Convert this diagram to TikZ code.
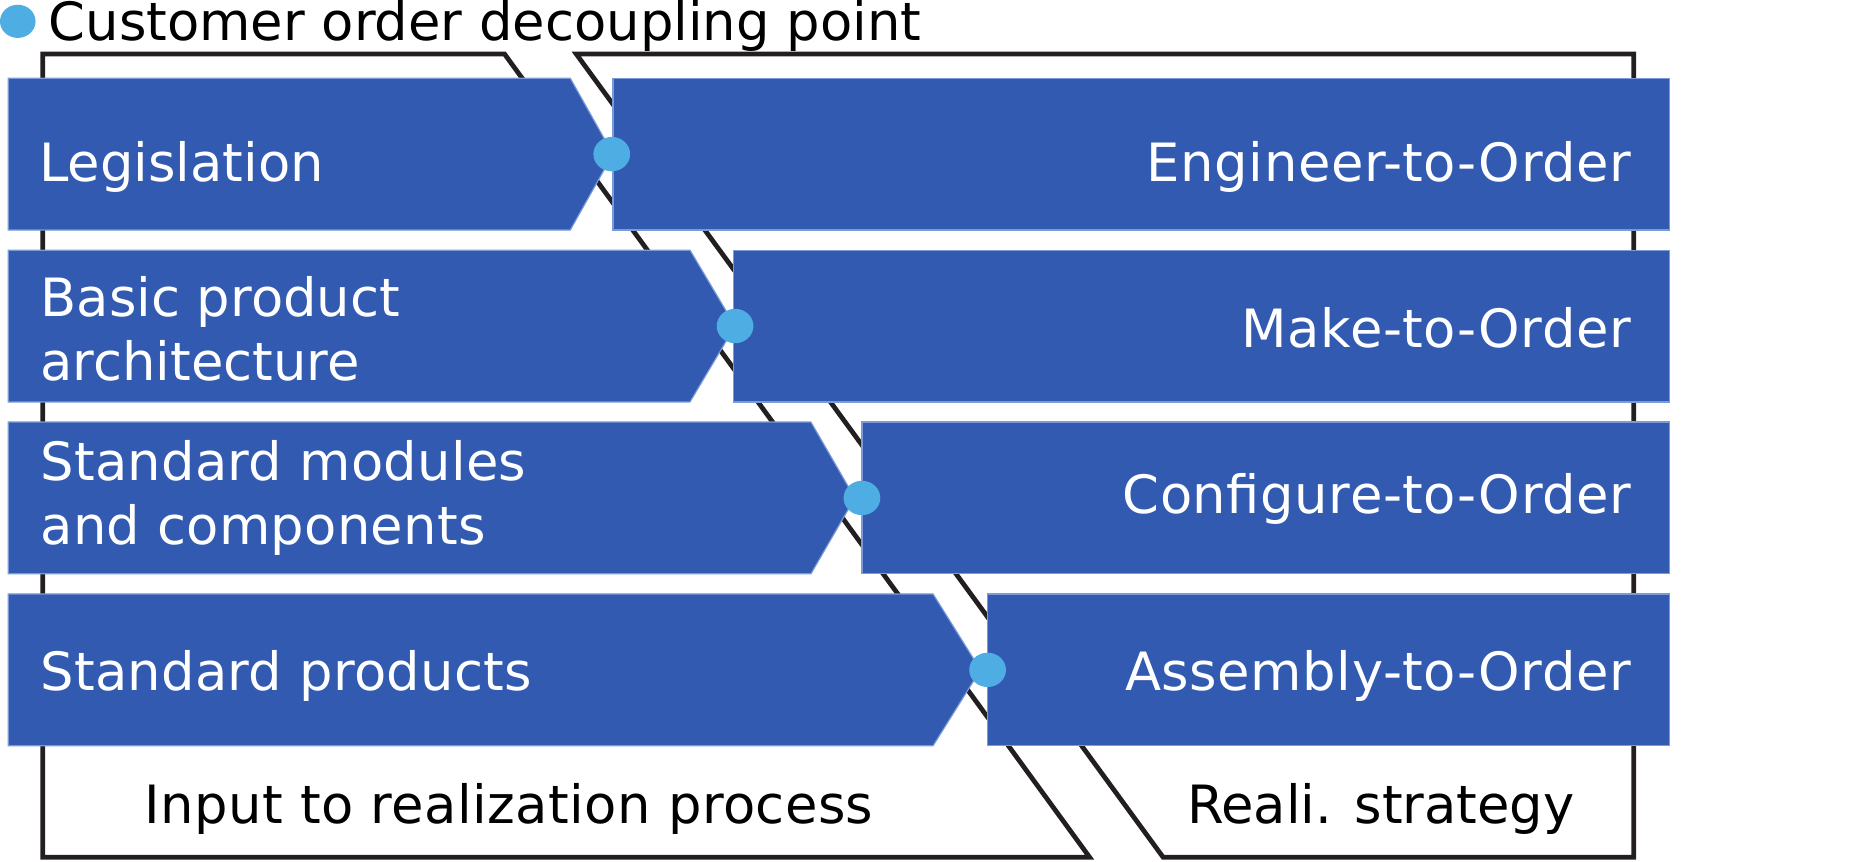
\documentclass[tikz,border=0pt]{standalone}
\usepackage{fontspec}
\setmainfont{DejaVu Sans}
\definecolor{boxblue}{HTML}{315AB0}
\definecolor{boxedge}{HTML}{7A9AD8}
\definecolor{dotblue}{HTML}{4EADE3}
\definecolor{frameblack}{HTML}{231F20}
\tikzset{
  frameline/.style={draw=frameblack, line width=4pt, line join=miter},
  bluebox/.style={fill=boxblue, draw=boxedge, line width=1pt},
  cdot/.style={fill=dotblue},
  boxtext/.style={text=white, inner sep=0pt, font=\fontsize{44.5}{54}\selectfont},
  plaintext/.style={text=black, inner sep=0pt, font=\fontsize{44.5}{54}\selectfont},
  wider/.style={font=\fontsize{44.5}{54}\selectfont\addfontfeature{LetterSpace=1.1}},
  slightlywider/.style={font=\fontsize{44.5}{54}\selectfont\addfontfeature{LetterSpace=0.5}}
}
\begin{document}
\begin{tikzpicture}[x=1pt, y=-1pt]
\useasboundingbox (0,0) rectangle (1568,727);
% frames
\draw[frameline] (36,723) -- (36,45.5) -- (425.5,45.5) -- (919,723) -- cycle;
\draw[frameline] (486,45.5) -- (1378,45.5) -- (1378,723) -- (981,723) -- cycle;
% row 1
\path[bluebox] (7,66) -- (481,66) -- (517,130) -- (481,194) -- (7,194) -- cycle;
\path[bluebox] (517,66) rectangle (1408,194);
% row 2
\path[bluebox] (7,211) -- (582,211) -- (620,275) -- (582,339) -- (7,339) -- cycle;
\path[bluebox] (619,211) rectangle (1408,339);
% row 3
\path[bluebox] (7,356) -- (684,356) -- (721,420) -- (684,484) -- (7,484) -- cycle;
\path[bluebox] (727,356) rectangle (1408,484);
% row 4
\path[bluebox] (7,501) -- (787,501) -- (827,565) -- (787,629) -- (7,629) -- cycle;
\path[bluebox] (833,501) rectangle (1408,629);
% dots
\path[cdot] (15,18) ellipse [x radius=15, y radius=14];
\path[cdot] (516,130) ellipse [x radius=15.5, y radius=14.5];
\path[cdot] (620,275) ellipse [x radius=15.5, y radius=14.5];
\path[cdot] (727,420) ellipse [x radius=15.5, y radius=14.5];
\path[cdot] (833,565) ellipse [x radius=15.5, y radius=14.5];
% texts
\node[plaintext, anchor=base west] (title) at (41,34) {Customer order decoupling point};
\node[boxtext, anchor=base west] (l1) at (33,153) {Legislation};
\node[boxtext, anchor=base west] (l2) at (34,267) {\parbox[t]{700pt}{Basic product\\architecture}};
\node[boxtext, slightlywider, anchor=base west] (l3) at (34,405) {\parbox[t]{700pt}{Standard modules\\and components}};
\node[boxtext, slightlywider, anchor=base west] (l4) at (34,582) {Standard products};
\node[boxtext, wider, anchor=base east] (r1) at (1376,153) {Engineer-to-Order};
\node[boxtext, wider, anchor=base east] (r2) at (1376,293) {Make-to-Order};
\node[boxtext, wider, anchor=base east] (r3) at (1376,433) {Configure-to-Order};
\node[boxtext, wider, anchor=base east] (r4) at (1376,582) {Assembly-to-Order};
\node[plaintext, font=\fontsize{44.5}{54}\selectfont\addfontfeature{LetterSpace=0.8}, anchor=base west] (in) at (122,695) {Input to realization process};
\node[plaintext, anchor=base west] (rs) at (1001,695) {Reali. strategy};
\end{tikzpicture}
\end{document}
